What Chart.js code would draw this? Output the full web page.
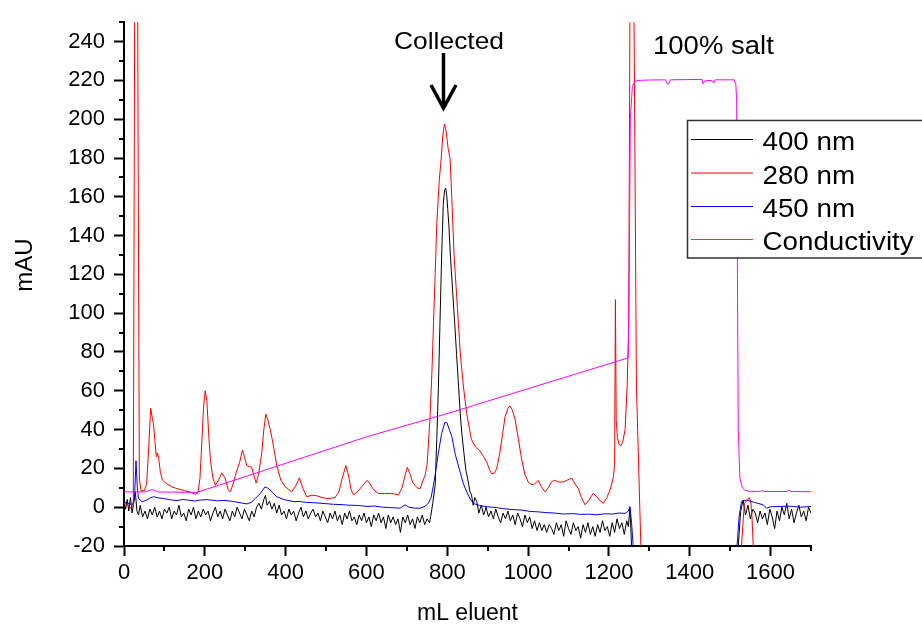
<!DOCTYPE html>
<html>
<head>
<meta charset="utf-8">
<script src="https://cdn.jsdelivr.net/npm/chart.js@4/dist/chart.umd.min.js"></script>
<style>
html,body{margin:0;padding:0;background:#fff;}
canvas{display:block;}
</style>
</head>
<body>
<canvas id="c" width="922" height="630"></canvas>
<script>
// ---------------- DATA (mL eluent, mAU) ----------------
const seriesLabels = ['400 nm', '280 nm', '450 nm', 'Conductivity'];
const xTickValues = [0, 200, 400, 600, 800, 1000, 1200, 1400, 1600];
const yTickValues = [-20, 0, 20, 40, 60, 80, 100, 120, 140, 160, 180, 200, 220, 240];

const trace400 = [
 [0,3],[4,-1],[8,4],[12,-2],[16,5],[20,-3],[24,2],[28,8],[32,-2],[36,-4],[40,1],[46,-5],[52,-2],[58,-6],[64,-1],
 [70,-4],[76,0],[82,-5],[88,-2],[94,-6],[100,-1],[106,-3],[112,0],[118,-6],[124,-2],[130,-4],[136,1],[142,-5],
 [148,-3],[154,-7],[160,-1],[166,-4],[172,0],[178,-6],[184,-2],[190,-5],[196,-1],[202,-4],[208,-2],[214,-7],
 [220,-3],[226,0],[232,-5],[238,-2],[244,-6],[250,-1],[256,-4],[262,-7],[268,-2],[274,-5],[280,0],[286,-3],
 [292,-6],[298,-1],[304,-4],[310,-7],[316,-2],[322,-5],[328,0],[334,2],[340,-1],[346,4],[350,6],[354,1],[360,3],
 [366,-1],[372,2],[378,-3],[384,1],[390,-4],[396,-2],[402,-6],[408,-1],[414,-4],[420,-2],[426,-7],[432,-3],
 [438,0],[444,-5],[450,-2],[456,-6],[462,-3],[468,-1],[474,-5],[480,-3],[486,-7],[492,-2],[498,-5],[504,-8],
 [510,-3],[516,-6],[522,-2],[528,-7],[534,-4],[540,-9],[546,-3],[552,-6],[558,-2],[564,-7],[570,-5],[576,-9],
 [582,-4],[588,-7],[594,-3],[600,-8],[606,-5],[612,-10],[618,-4],[624,-7],[630,-3],[636,-8],[642,-5],[648,-11],
 [654,-4],[660,-8],[666,-5],[672,-9],[678,-6],[684,-13],[690,-5],[696,-8],[702,-4],[708,-9],[714,-6],[720,-11],
 [726,-5],[732,-8],[738,-4],[744,-9],[750,-6],[756,-8],[759,-4.7],[764,2],[770,11.3],[774,35],[778,61.8],
 [782,96],[786,129],[790,156],[793,163],[796,164.5],[799,160],[801,154],[804,145],[807,132.5],[810,122],
 [813,112],[818,96],[823,78.6],[828,62],[832,48.3],[836,38],[841,28.1],[846,19],[852,13],[856,8],[860,6.3],
 [864,1],[868,5],[873,2.9],[878,-3],[884,1],[890,-4],[896,0],[902,-5],[908,-2],[914,-6],[920,-1],[926,-5],
 [932,-8],[938,-3],[944,-6],[950,-2],[956,-7],[962,-4],[968,-9],[974,-3],[980,-6],[986,-10],[992,-4],[998,-8],
 [1004,-5],[1010,-11],[1016,-7],[1022,-12],[1028,-8],[1034,-12],[1040,-9],[1046,-13],[1052,-9],[1058,-11],
 [1064,-14],[1070,-8],[1076,-12],[1082,-9],[1088,-15],[1094,-7],[1100,-11],[1106,-14],[1112,-8],[1118,-12],
 [1124,-10],[1130,-16],[1136,-9],[1142,-13],[1148,-8],[1154,-14],[1160,-10],[1166,-15],[1172,-9],[1178,-13],
 [1184,-7],[1190,-12],[1196,-10],[1202,-15],[1208,-8],[1214,-13],[1220,-6],[1226,-11],[1232,-8],[1238,-14],
 [1244,-7],[1248,-10],[1252,-0.5],[1256,-20],[1262,-40],[1515,-40],[1520,-20],[1526,-2],[1532,3.7],[1538,-4],
 [1544,1],[1550,-6],[1556,-1],[1562,-3],[1568,-8],[1574,-2],[1580,-6],[1586,-3],[1592,-9],[1598,-1],[1604,-5],
 [1610,-11],[1616,-2],[1622,-7],[1628,0],[1634,-4],[1640,2],[1646,-6],[1652,-1],[1658,-8],[1664,-3],[1670,1],
 [1676,-5],[1682,-2],[1688,-7],[1694,0],[1700,-3]
];

const trace280 = [
 [0,2],[8,1.5],[15,-0.5],[20,0.2],[23,1],[27,300],[33,300],[38,15],[42,8.5],[50,8.5],[56,12],[61,30],[66,51],
 [70,46],[73,43],[77,33],[80,26],[83,28],[86,25],[90,18],[95,14],[106,12],[118,10.5],[131,9.6],[150,8.5],
 [164,7.9],[176,6.6],[183,7.5],[188,15],[193,35],[197,52],[201,60],[205,55],[210,36],[214,24],[220,15],
 [226,11.3],[234,14],[242,17.7],[250,15],[258,9],[263,7.9],[270,12],[279,18.9],[286,23],[293,29.5],[298,26],
 [304,21.4],[310,21],[316,20.6],[322,16],[327,12.5],[333,17],[341,28.1],[346,40],[351,48],[356,45],[362,40],
 [366,35.7],[372,29],[378,21.4],[388,14],[399,10.5],[415,7.9],[425,11],[434,15.2],[442,10],[452,5.4],[465,6.2],
 [477,5.9],[490,5],[502,4.5],[515,4.7],[522,4.9],[532,8],[540,15],[549,21.4],[556,16],[562,9],[568,6.3],
 [578,8],[590,11],[601,13.8],[607,12.8],[613,10.5],[620,8.5],[630,7.1],[645,7],[658,7.1],[670,6.8],[679,6.3],
 [688,10],[695,16],[701,20.6],[708,17],[714,13],[720,11.3],[727,9.8],[733,9.6],[740,14],[745,16.3],[750,22],
 [757,45],[762,70],[766,95.5],[770,120],[774,146],[780,168],[785,180],[789,192],[793,197.5],[797,194],
 [802,185],[807,179.6],[812,155],[817,129],[825,103],[832,79.6],[840,62],[848,48.3],[855,40],[860,34.8],
 [870,31],[881,29],[890,26],[898,23.1],[905,19],[910,17.2],[916,17.5],[922,19.7],[930,28],[937,38],[943,46.7],
 [950,51],[955,52.2],[961,50],[968,45],[976,35],[984,24.7],[992,17],[1000,13],[1006,12],[1013,11.6],
 [1019,12.5],[1025,13.8],[1033,10.5],[1042,7.9],[1050,10],[1058,13.2],[1066,13.8],[1075,13],[1087,13],
 [1097,14],[1108,15],[1116,12],[1124,9.6],[1132,5],[1141,1.2],[1150,3.5],[1161,7.1],[1170,5.5],[1178,3.3],
 [1186,2],[1195,5],[1203,9],[1211,15.5],[1214,22],[1216,107],[1218,45],[1221,36],[1225,32.5],[1229,31.5],
 [1234,33.5],[1240,40],[1245,62],[1249,95.5],[1252,260],[1255,300],[1260,300],[1262,255],[1268,63],
 [1279,-20],[1285,-40],[1525,-40],[1528,-20],[1535,2],[1542,3.5],[1547,5],[1551,3],[1554,-5],[1557,-20],
 [1562,-40],[1700,-40]
];

const trace450 = [
 [0,2.9],[8,2],[15,1.7],[22,1.5],[26,5],[29.7,23.9],[33,10],[36,4.5],[44.5,2.9],[55,3.5],[65,4.8],[73,5.4],
 [85,4.8],[98,4.5],[115,3.8],[131,3.4],[145,4],[160,3.6],[175,3.2],[189,3.7],[205,3.9],[230,3.3],[250,3.5],
 [271,2.9],[290,2.2],[304,1.7],[315,2.5],[325,4.5],[337,7],[349,10.5],[356,9.8],[362,8.8],[370,7],[378,5.4],
 [395,4],[419,2.9],[436,2.9],[450,2.5],[470,2.3],[495,1.9],[518,1.5],[540,1.3],[560,1],[580,0.9],[601,0.4],
 [620,0.6],[640,0],[660,-0.2],[683,-0.5],[690,0.5],[696,1.2],[705,0],[720,-0.5],[733,-0.5],[745,0.5],[753,2],
 [760,5],[768,14],[778,28],[786,38],[794,43.6],[799,43.6],[805,40],[811,36.6],[820,27],[832,18],[840,12],
 [848,7.9],[856,4.5],[864,2],[880,0.8],[900,0.2],[922,-0.2],[940,-0.8],[960,-1.2],[985,-1.5],[1005,-2.2],
 [1025,-2.4],[1045,-2.8],[1065,-3],[1087,-3.5],[1110,-3.3],[1130,-3.7],[1150,-3.6],[1170,-3.9],[1190,-3.4],
 [1210,-3.5],[1225,-3],[1240,-3.2],[1248,-2],[1252,0.4],[1256,-8],[1260,-20],[1265,-40],[1512,-40],
 [1517,-20],[1522,-5],[1528,2.9],[1540,3.7],[1560,2.5],[1582,1.2],[1590,-0.5],[1600,0.2],[1623,0.4],
 [1650,0.5],[1675,0],[1700,0.4]
];

const traceConductivity = [
 [0,7.9],[50,7.9],[62,8.5],[69,9.1],[76,8.5],[85,7.8],[120,7.8],[150,7.7],[180,7.6],[601,36.3],[807,48.7],
 [1248,77],[1250,120],[1253,200],[1258,217],[1265,219.5],[1272,220],[1300,220.2],[1340,220.3],[1345,218],
 [1349,218.5],[1352,220.3],[1430,220.5],[1433,218.3],[1437,219.8],[1455,220],[1459,218.7],[1463,220.3],
 [1510,220.3],[1514,218],[1516,210],[1518,120],[1520,40],[1524,15],[1530,10],[1536,8.8],[1550,8],[1575,8.2],
 [1580,8.6],[1585,8.1],[1640,8.1],[1645,8.7],[1650,8.1],[1700,8]
];

const seriesColors = ['#000000', '#ff0000', '#0000ff', '#ff00ff'];
const FONT = '"Liberation Sans", Arial, sans-serif';

function toPoints(arr){ return arr.map(p => ({x:p[0], y:p[1]})); }

// ---------------- PLUGINS ----------------
const minorTicks = {
  id:'minorTicks',
  afterDraw(chart){
    const ctx = chart.ctx, xs = chart.scales.x, ys = chart.scales.y, a = chart.chartArea;
    ctx.save();
    ctx.strokeStyle = '#000'; ctx.lineWidth = 2;
    ctx.beginPath();
    for (let v = -10; v <= 250; v += 20){
      const py = Math.round(ys.getPixelForValue(v));
      ctx.moveTo(a.left - 5, py); ctx.lineTo(a.left, py);
    }
    for (let v = 100; v <= 1700; v += 200){
      const px = Math.round(xs.getPixelForValue(v));
      ctx.moveTo(px, a.bottom); ctx.lineTo(px, a.bottom + 5);
    }
    ctx.stroke();
    ctx.restore();
  }
};

function stretchText(ctx, text, x, y, size, align, sx){
  ctx.save();
  ctx.font = size + 'px ' + FONT;
  ctx.fillStyle = '#000';
  ctx.textBaseline = 'alphabetic';
  ctx.textAlign = align;
  ctx.translate(x, y);
  ctx.scale(sx, 1);
  ctx.fillText(text, 0, 0);
  ctx.restore();
}

const annotations = {
  id:'annotations',
  afterDraw(chart){
    const ctx = chart.ctx;
    // y-axis title
    ctx.save();
    ctx.translate(32, 265);
    ctx.rotate(-Math.PI/2);
    ctx.font = '24px ' + FONT;
    ctx.fillStyle = '#000';
    ctx.textAlign = 'center';
    ctx.textBaseline = 'alphabetic';
    ctx.fillText('mAU', 0, 0);
    ctx.restore();

    // "Collected" label and arrow
    stretchText(ctx, 'Collected', 449, 48.5, 24, 'center', 1.1);
    ctx.save();
    ctx.strokeStyle = '#000'; ctx.lineWidth = 3.5; ctx.lineCap = 'butt'; ctx.lineJoin = 'miter';
    ctx.beginPath(); ctx.moveTo(443.5, 53); ctx.lineTo(443.5, 106); ctx.stroke();
    ctx.beginPath(); ctx.moveTo(431, 85); ctx.lineTo(443.5, 108); ctx.lineTo(456, 85); ctx.stroke();
    ctx.restore();

    // "100% salt"
    stretchText(ctx, '100% salt', 653, 54, 25, 'left', 1.1);

    // legend box
    ctx.save();
    ctx.fillStyle = '#fff';
    ctx.fillRect(687, 120, 235, 138);
    ctx.strokeStyle = '#333'; ctx.lineWidth = 1.5;
    ctx.strokeRect(687.5, 120.5, 240, 137.5);
    const rows = [139.5, 173, 206.5, 239.5];
    chart.data.datasets.slice().sort((a,b)=>a.legendIndex-b.legendIndex).forEach((ds, i) => {
      ctx.strokeStyle = ds.borderColor; ctx.lineWidth = 1.2;
      ctx.beginPath(); ctx.moveTo(691, rows[i]); ctx.lineTo(753, rows[i]); ctx.stroke();
      stretchText(ctx, ds.label, 762.5, rows[i] + 10.5, 25, 'left', 1.11);
    });
    ctx.restore();
  }
};

// ---------------- CHART ----------------
const traces = [trace400, trace280, trace450, traceConductivity];
const drawOrder = [4, 3, 2, 1];

new Chart(document.getElementById('c').getContext('2d'), {
  type:'line',
  data:{
    datasets: traces.map((t, i) => ({
      label: seriesLabels[i],
      legendIndex: i,
      data: toPoints(t),
      borderColor: seriesColors[i],
      backgroundColor: seriesColors[i],
      borderWidth: 1,
      pointRadius: 0,
      fill: false,
      tension: 0,
      order: drawOrder[i]
    }))
  },
  options:{
    responsive:false,
    animation:false,
    devicePixelRatio:1,
    layout:{padding:{left:0, right:111, top:11, bottom:0}},
    plugins:{legend:{display:false}, tooltip:{enabled:false}},
    scales:{
      x:{
        type:'linear', min:0, max:1700,
        afterBuildTicks(s){ s.ticks = xTickValues.map(v => ({value:v})); },
        afterFit(s){ s.height = 84; },
        ticks:{font:{family:FONT, size:22}, color:'#000', padding:4, maxRotation:0, autoSkip:false,
               callback: v => String(v)},
        grid:{drawOnChartArea:false, drawTicks:true, tickLength:10, tickWidth:2, tickColor:'#000'},
        border:{display:true, color:'#000', width:2},
        title:{display:true, text:'mL eluent', color:'#000', font:{family:FONT, size:23}, padding:{top:0, bottom:3}}
      },
      y:{
        type:'linear', min:-20, max:250,
        afterBuildTicks(s){ s.ticks = yTickValues.map(v => ({value:v})); },
        afterFit(s){ s.width = 124; },
        ticks:{font:{family:FONT, size:22}, color:'#000', padding:9, autoSkip:false,
               callback: v => String(v)},
        grid:{drawOnChartArea:false, drawTicks:true, tickLength:10, tickWidth:2, tickColor:'#000'},
        border:{display:true, color:'#000', width:2}
      }
    }
  },
  plugins:[minorTicks, annotations]
});
</script>
</body>
</html>
